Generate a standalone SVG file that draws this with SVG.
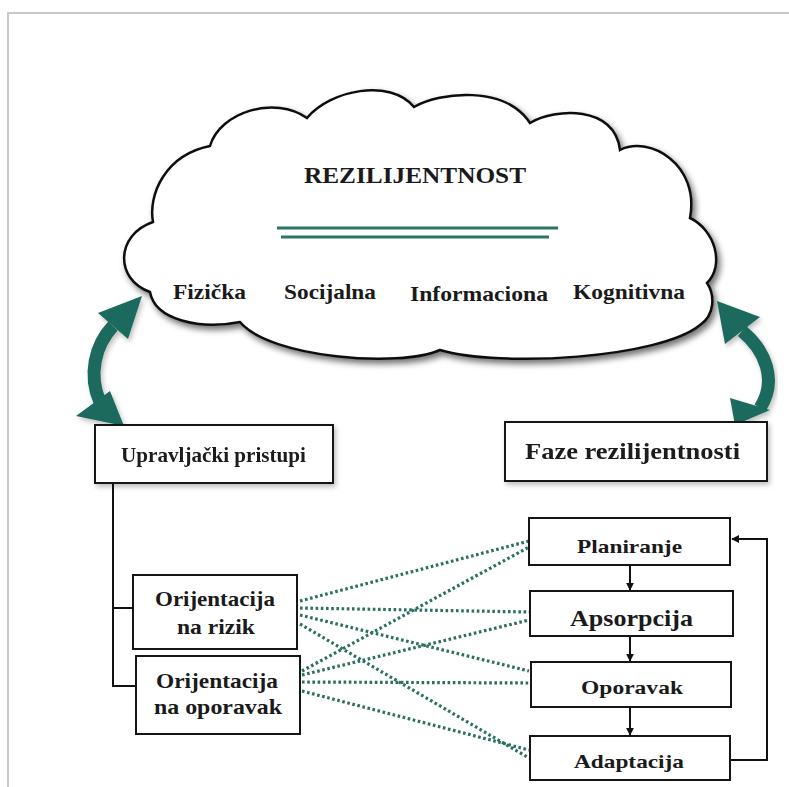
<svg xmlns="http://www.w3.org/2000/svg" width="789" height="787" viewBox="0 0 789 787">
  <defs>
    <style>
      .lbl { font-family: "Liberation Serif", "Times New Roman", serif; font-weight: bold; fill: #1a1a1a; }
      .box { fill: #ffffff; stroke: #151515; stroke-width: 2; }
      .link { fill: none; stroke: #111; stroke-width: 2; }
      .dot { fill: none; stroke: #2a6f60; stroke-width: 3.2; stroke-dasharray: 2.6 2.6; }
      .teal { fill: #1b6a5d; }
    </style>
    <filter id="shadow" x="-10%" y="-10%" width="125%" height="130%">
      <feDropShadow dx="3" dy="4" stdDeviation="3" flood-color="#000" flood-opacity="0.55"/>
    </filter>
    <filter id="softShadow" x="-10%" y="-10%" width="125%" height="130%">
      <feDropShadow dx="2" dy="3" stdDeviation="2.5" flood-color="#000" flood-opacity="0.25"/>
    </filter>
    <marker id="head" viewBox="0 0 10 10" refX="9" refY="5" markerWidth="4" markerHeight="4" orient="auto" markerUnits="strokeWidth">
      <path d="M0,0 L10,5 L0,10 z" fill="#111"/>
    </marker>
  </defs>

  <!-- page frame -->
  <path d="M789,13 H8 V787" fill="none" stroke="#c8c8c8" stroke-width="2"/>

  <!-- cloud -->
  <g id="cloud">
    <path filter="url(#shadow)" fill="#fff" stroke="#111" stroke-width="2.5" stroke-linejoin="miter"
      d="M153,222 C148,195 165,155 210,146
         C220,112 275,95 307,118
         C330,90 390,78 414,107
         C440,92 505,85 530,123
         C555,108 615,105 620,150
         C650,135 700,165 690,218
         C715,230 725,265 707,283
         C715,295 715,315 700,325
         C660,358 500,368 440,350
         C400,368 270,358 240,322
         C200,330 155,320 150,292
         C115,280 115,235 153,222 Z"/>
    <text class="lbl" x="304" y="183" font-size="23" textLength="222" lengthAdjust="spacingAndGlyphs">REZILIJENTNOST</text>
    <line x1="277" y1="228" x2="558" y2="228" stroke="#2a7565" stroke-width="3"/>
    <line x1="281" y1="237" x2="549" y2="237" stroke="#2a7565" stroke-width="3"/>
    <text class="lbl" x="173" y="299" font-size="22" textLength="73" lengthAdjust="spacingAndGlyphs">Fizička</text>
    <text class="lbl" x="284" y="299" font-size="22" textLength="92" lengthAdjust="spacingAndGlyphs">Socijalna</text>
    <text class="lbl" x="410" y="301" font-size="22" textLength="138" lengthAdjust="spacingAndGlyphs">Informaciona</text>
    <text class="lbl" x="573" y="299" font-size="22" textLength="112" lengthAdjust="spacingAndGlyphs">Kognitivna</text>
  </g>

  <!-- curved double arrows between cloud and the two headers -->
  <g id="arrow-left" filter="url(#softShadow)">
    <path d="M113,326 C95,345 88,375 100,402" fill="none" stroke="#1b6a5d" stroke-width="13"/>
    <polygon class="teal" points="142,296 98,313 128,339"/>
    <polygon class="teal" points="76,416 110,391 124,426"/>
  </g>
  <g id="arrow-right" filter="url(#softShadow)">
    <path d="M742,331 C765,350 778,380 760,408" fill="none" stroke="#1b6a5d" stroke-width="13"/>
    <polygon class="teal" points="717,301 760,317 725,344"/>
    <polygon class="teal" points="730,398 770,410 735,425"/>
  </g>

  <!-- connectors -->
  <g id="connectors">
    <polyline class="link" points="113,483 113,686 136,686"/>
    <line class="link" x1="113" y1="608" x2="133" y2="608"/>
    <line class="link" x1="630" y1="565" x2="630" y2="590" marker-end="url(#head)"/>
    <line class="link" x1="630" y1="636" x2="630" y2="661" marker-end="url(#head)"/>
    <line class="link" x1="630" y1="707" x2="630" y2="735" marker-end="url(#head)"/>
    <polyline class="link" stroke-width="2.5" points="730,760 767,760 767,539 732,539" marker-end="url(#head)"/>

    <line class="dot" x1="300" y1="601" x2="529" y2="541"/>
    <line class="dot" x1="300" y1="608" x2="529" y2="612"/>
    <line class="dot" x1="300" y1="615" x2="529" y2="671"/>
    <line class="dot" x1="300" y1="624" x2="529" y2="758"/>
    <line class="dot" x1="302" y1="671" x2="529" y2="547"/>
    <line class="dot" x1="302" y1="675" x2="529" y2="620"/>
    <line class="dot" x1="302" y1="682" x2="529" y2="683"/>
    <line class="dot" x1="302" y1="691" x2="529" y2="750"/>
  </g>

  <!-- nodes -->
  <g id="upravljacki" filter="url(#softShadow)">
    <rect class="box" x="95" y="425" width="238" height="58"/>
    <text class="lbl" x="121" y="462" font-size="21" textLength="185" lengthAdjust="spacingAndGlyphs">Upravljački pristupi</text>
  </g>
  <g id="faze" filter="url(#softShadow)">
    <rect class="box" x="505" y="422" width="262" height="59" stroke-width="2.6"/>
    <text class="lbl" x="525" y="459" font-size="24" textLength="215" lengthAdjust="spacingAndGlyphs">Faze rezilijentnosti</text>
  </g>
  <g id="orijentacija-rizik">
    <rect class="box" x="133" y="575" width="164" height="74"/>
    <text class="lbl" x="155" y="606" font-size="21" textLength="120" lengthAdjust="spacingAndGlyphs">Orijentacija</text>
    <text class="lbl" x="177" y="634" font-size="21" textLength="78" lengthAdjust="spacingAndGlyphs">na rizik</text>
  </g>
  <g id="orijentacija-oporavak">
    <rect class="box" x="136" y="656" width="164" height="78"/>
    <text class="lbl" x="156" y="688" font-size="21" textLength="122" lengthAdjust="spacingAndGlyphs">Orijentacija</text>
    <text class="lbl" x="154" y="714" font-size="21" textLength="128" lengthAdjust="spacingAndGlyphs">na oporavak</text>
  </g>
  <g id="planiranje">
    <rect class="box" x="529" y="518" width="201" height="47"/>
    <text class="lbl" x="577" y="553" font-size="19" textLength="105" lengthAdjust="spacingAndGlyphs">Planiranje</text>
  </g>
  <g id="apsorpcija">
    <rect class="box" x="530" y="591" width="203" height="45" stroke="#1e2a45" stroke-width="2.4"/>
    <text class="lbl" x="570" y="626" font-size="23" textLength="123" lengthAdjust="spacingAndGlyphs">Apsorpcija</text>
  </g>
  <g id="oporavak">
    <rect class="box" x="531" y="662" width="200" height="45"/>
    <text class="lbl" x="581" y="694" font-size="19" textLength="102" lengthAdjust="spacingAndGlyphs">Oporavak</text>
  </g>
  <g id="adaptacija">
    <rect class="box" x="530" y="736" width="200" height="44"/>
    <text class="lbl" x="574" y="768" font-size="19" textLength="110" lengthAdjust="spacingAndGlyphs">Adaptacija</text>
  </g>
</svg>
